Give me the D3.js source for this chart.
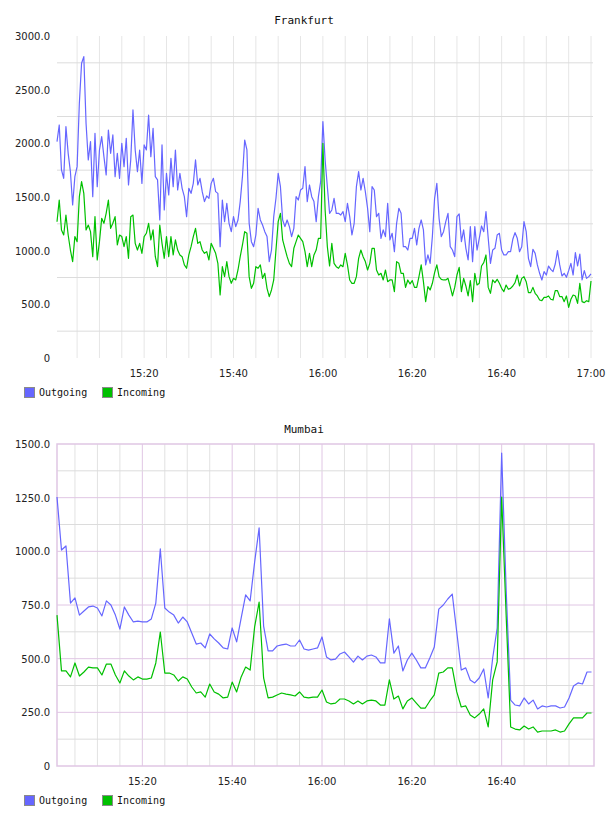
<!DOCTYPE html>
<html>
<head>
<meta charset="utf-8">
<script src="https://cdn.jsdelivr.net/npm/d3@7"></script>
<style>
  body { margin: 0; background: #fff; }
  text { font-family: "DejaVu Sans", sans-serif; font-size: 10px; fill: #222; }
  .chart_title { font-family: "DejaVu Sans Mono", monospace; font-size: 11px; fill: #111; }
  .legend_text { font-family: "DejaVu Sans Mono", monospace; font-size: 10px; fill: #111; }
</style>
</head>
<body>
<svg id="chart" width="608" height="816"></svg>
<script>

// SERIES NAMES + COLOURS
var series_names = ["Outgoing", "Incoming"];
var series_colours = ["#6666ff", "#00c000"];

// FRANKFURT - one sample every 30 seconds from 15:00:30
var fra_start = "15:00:30";
var fra_step_sec = 30;
var fra_out = [
  2016,2171,1752,1674,2156,1907,1736,1426,1690,1783,2373,2746,2808,2187,1845,2016,1503,2093,1596,1938,
  2062,1876,1705,2124,1907,2078,1690,1907,1674,2000,1783,2047,1612,1845,2311,1938,1736,1938,1627,1985,
  1938,2264,1876,2140,1690,1659,1286,1985,1379,1721,1519,1860,1596,1938,1565,1721,1581,1503,1317,1581,
  1534,1627,1845,1612,1674,1550,1457,1510,1488,1627,1674,1550,1534,1037,1472,1270,1441,1255,1177,1317,
  1224,1286,1457,1690,2031,1938,1255,1084,1037,1146,1395,1286,1239,1177,1131,898,1006,1317,1488,1721,
  1596,1286,1224,1286,1224,1131,1208,1503,1472,1565,1581,1783,1457,1612,1503,1457,1270,1503,1643,2202,
  1845,1596,1348,1379,1488,1348,1348,1332,1364,1270,1441,1317,1146,1255,1596,1736,1565,1674,1550,1395,
  1177,1596,1565,1317,1348,1115,1193,1131,1441,1100,1162,991,1255,1395,1348,1037,1037,1006,1115,1115,
  1208,1053,1208,1286,1193,867,960,882,1131,1488,1627,1301,1131,1177,1270,1348,1037,1006,944,1317,
  1342,1084,1193,1022,913,1224,898,1224,1006,1115,1230,1177,1364,1115,882,1006,1022,1146,1162,1006,
  960,960,991,991,1106,1168,1115,991,1037,1270,1177,929,851,1013,975,867,789,727,804,773,
  857,826,804,876,1000,867,764,789,752,814,882,773,981,857,969,727,814,742,758,783
];
var fra_in = [
  1270,1472,1193,1146,1332,1146,1006,898,1131,1084,1503,1643,1534,1193,1239,1177,944,1317,913,1084,
  1301,1255,1348,1472,1208,1255,1317,1053,1146,1131,1037,1131,929,1317,1332,1068,1006,1068,975,1131,
  1162,1255,1100,1193,944,851,1239,1068,929,1131,944,1131,960,1100,1006,960,944,867,836,960,
  1037,1131,1208,1068,1084,1006,975,991,913,1068,1022,975,882,587,851,758,898,758,696,742,
  727,820,944,1053,1177,1162,758,649,696,851,836,867,742,789,649,572,634,727,1006,1270,
  1348,1100,1022,944,882,851,1022,1084,1146,1115,1084,991,851,975,851,960,1006,1115,1115,2000,
  1379,1037,857,1068,882,851,836,867,851,975,867,727,696,696,758,929,1006,944,898,820,
  882,1022,1022,820,773,789,727,820,711,727,727,618,898,882,789,789,658,727,690,721,
  658,658,758,867,711,525,665,634,696,795,867,758,733,727,727,742,665,578,658,773,
  845,618,742,671,578,721,525,789,680,696,857,888,960,658,603,727,702,733,696,649,
  618,680,640,649,671,702,773,671,742,758,711,609,609,658,603,578,540,534,565,565,
  578,547,540,627,627,572,572,525,578,472,547,587,578,509,696,525,516,534,525,717
];
var fra_ticks = ["15:20", "15:40", "16:00", "16:20", "16:40", "17:00"];

// MUMBAI - one sample every minute from 15:01
var mum_start = "15:01:00";
var mum_step_sec = 60;
var mum_out = [
  1253,1006,1025,759,783,703,722,741,745,736,699,769,750,703,638,741,703,671,675,671,
  671,685,759,1011,736,717,703,666,694,671,620,568,573,550,615,592,573,550,545,643,
  578,689,797,769,950,1109,652,536,536,559,564,568,559,559,587,545,540,545,550,601,
  508,494,498,522,531,508,484,512,494,512,517,508,480,480,685,526,559,443,494,526,
  494,457,457,503,554,731,750,778,801,624,447,457,401,387,410,452,317,503,643,1458,
  820,307,284,280,317,289,307,266,280,275,280,280,270,275,317,373,387,382,438,438
];
var mum_in = [
  703,443,443,415,480,419,438,461,457,457,424,475,475,424,387,443,419,401,415,405,
  405,410,480,624,433,433,424,396,415,405,368,340,345,321,382,345,335,317,321,391,
  345,415,461,447,648,764,410,317,321,331,340,335,331,326,345,321,317,321,321,354,
  298,289,293,312,312,303,289,303,289,303,307,303,284,284,401,312,326,266,303,317,
  293,270,270,303,331,433,438,457,457,345,275,280,238,224,242,266,182,401,485,1253,
  700,182,172,168,186,172,182,158,163,163,163,168,158,163,196,224,224,224,247,247
];
var mum_ticks = ["15:20", "15:40", "16:00", "16:20", "16:40"];

var svg = d3.select("#chart");
var parseTime = d3.timeParse("%H:%M:%S");
var parseTick = d3.timeParse("%H:%M");

// build time stamps for a series
function makeTimes(start, step, n) {
  var t0 = parseTime(start);
  return d3.range(n).map(i => d3.timeSecond.offset(t0, i * step));
}

function drawPanel(o) {
  var times = makeTimes(o.start, o.step, o.out.length);

  var xScale = d3.scaleTime()
    .domain(d3.extent(times))
    .range([o.left, o.right]);

  var yScale = d3.scaleLinear()
    .domain([0, o.yMax])
    .range([o.bottom, o.top]);

  var g = svg.append("g");

  // title
  g.append("text")
    .attr("class", "chart_title")
    .attr("x", 304)
    .attr("y", o.titleY)
    .attr("text-anchor", "middle")
    .text(o.title);

  // vertical grid, every 5 minutes
  var vlines = xScale.ticks(d3.timeMinute.every(5))
    .filter(t => o.keepEndLine || t < xScale.domain()[1]);
  g.selectAll("line.vgrid")
    .data(vlines)
    .enter().append("line")
    .attr("x1", d => xScale(d)).attr("x2", d => xScale(d))
    .attr("y1", o.top).attr("y2", o.bottom)
    .attr("stroke", d => (o.purple && d.getMinutes() % 20 == 0) ? "#e0c6e4" : o.vColour)
    .attr("stroke-width", 1);

  // horizontal grid
  g.selectAll("line.hgrid")
    .data(o.hGrid)
    .enter().append("line")
    .attr("x1", o.left).attr("x2", o.gridRight)
    .attr("y1", d => yScale(d)).attr("y2", d => yScale(d))
    .attr("stroke", d => (o.purple && d % 250 == 0) ? "#e0c6e4" : "#dcdcdc")
    .attr("stroke-width", 1);

  if (o.purple) {
    g.append("rect")
      .attr("x", o.left).attr("y", o.top)
      .attr("width", o.gridRight - o.left).attr("height", o.bottom - o.top)
      .attr("fill", "none")
      .attr("stroke", "#e0c6e4")
      .attr("stroke-width", 1.5);
  }

  // y labels
  g.selectAll("text.ylab")
    .data(d3.range(0, o.yMax + 1, o.yStep))
    .enter().append("text")
    .attr("x", 50)
    .attr("y", d => yScale(d) + 4)
    .attr("text-anchor", "end")
    .text(d => d == 0 ? "0" : d3.format(".1f")(d));

  // x labels
  g.selectAll("text.xlab")
    .data(o.ticks)
    .enter().append("text")
    .attr("x", d => xScale(parseTick(d)))
    .attr("y", o.bottom + 19)
    .attr("text-anchor", "middle")
    .text(d => d);

  // lines
  [o.out, o.inc].forEach((vals, si) => {
    var line = d3.line()
      .x((d, i) => xScale(times[i]))
      .y(d => yScale(d));
    g.append("path")
      .datum(vals)
      .attr("d", line)
      .attr("fill", "none")
      .attr("stroke", series_colours[si])
      .attr("stroke-width", 1.2)
      .attr("stroke-linejoin", "round");
  });

  // legend
  var legend_x = [24, 102];
  series_names.forEach((name, si) => {
    g.append("rect")
      .attr("x", legend_x[si] + 0.5).attr("y", o.legendY + 0.5)
      .attr("width", 10).attr("height", 10)
      .attr("fill", series_colours[si])
      .attr("stroke", "#8a8a8a");
    g.append("text")
      .attr("class", "legend_text")
      .attr("x", legend_x[si] + 15)
      .attr("y", o.legendY + 9)
      .text(name);
  });
}

// FRANKFURT
drawPanel({
  title: "Frankfurt", titleY: 24,
  start: fra_start, step: fra_step_sec, out: fra_out, inc: fra_in,
  left: 57, right: 591, gridRight: 593, top: 36, bottom: 358,
  yMax: 3000, yStep: 500, hGrid: d3.range(250, 3000, 500),
  ticks: fra_ticks, legendY: 387, purple: false, vColour: "#e6e6e6", keepEndLine: true
});

// MUMBAI
drawPanel({
  title: "Mumbai", titleY: 433,
  start: mum_start, step: mum_step_sec, out: mum_out, inc: mum_in,
  left: 57, right: 591.5, gridRight: 594, top: 444, bottom: 766,
  yMax: 1500, yStep: 250, hGrid: d3.range(125, 1500, 125),
  ticks: mum_ticks, legendY: 795, purple: true, vColour: "#e2e2e2", keepEndLine: false
});

</script>
</body>
</html>
